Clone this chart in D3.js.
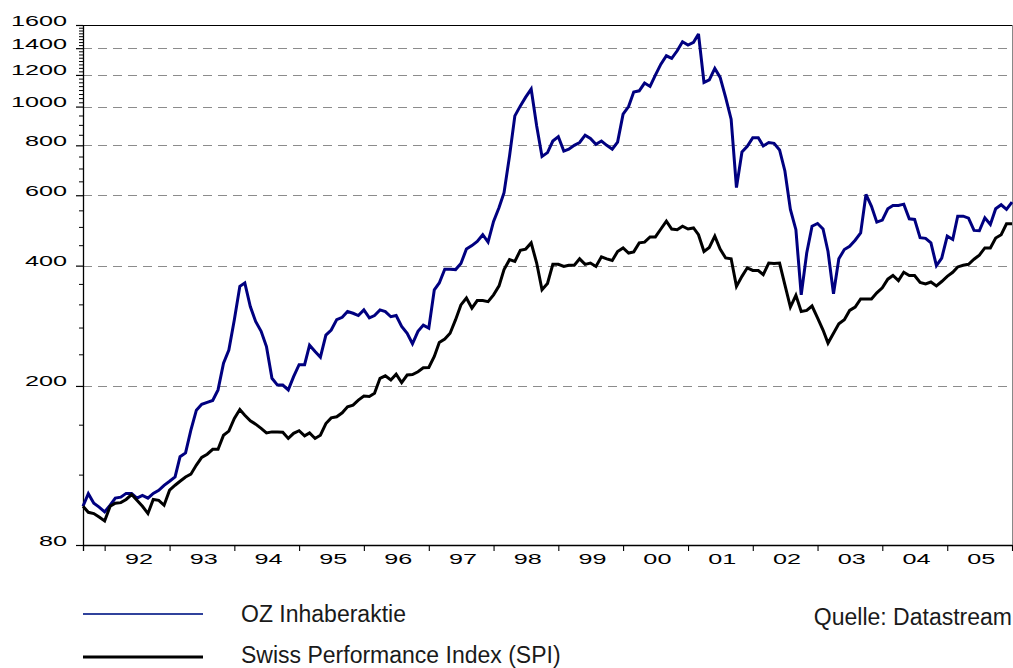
<!DOCTYPE html>
<html><head><meta charset="utf-8">
<script src="https://cdn.jsdelivr.net/npm/d3@7"></script>
<style>body{margin:0;background:#fff}svg{display:block}</style>
</head><body><svg id="c" width="1013" height="668"></svg>
<script>
// Monthly series, indexed to 100 at the start (Sep 1991)
const startYear = 1991, startMonth = 8;
const oz = [100,107.5,101.8,99.5,96.8,100.6,104.8,105.4,107.7,107.7,104.8,106.5,104.8,107.7,109.6,112.8,115.5,118.4,133,136,
155,174,180,182,184,195.5,228,246,293,355,362,316,290,274,251,209,201,201,195.5,211,
226,226,253,244,236,268,276,293,297,307,304,300,310,296,300,310,307,298,300,282,
271,255,274,284,279,348,362,392,392,391,405,440,449,460,478,458,516,559,609,752,
948,1004,1056,1106,894,750,767,820,841,774,782,800,813,848,832,805,820,800,782,815,
957,1000,1088,1095,1145,1123,1199,1277,1340,1320,1379,1453,1426,1448,1519,1149,1166,1246,1183,1054,
930,627,770,795,836,836,797,813,809,779,690,553,492,338,430,502,510,494,434,340,
416,439,447,463,483,603,563,514,520,555,566,566,570,524,522,470,468,456,400,418,
474,465,532,532,526,490,489,527,507,555,568,553,577];
const spi = [100,96.6,95.9,94.0,91.9,100,101.8,102.1,104,107,103.5,100,95.9,104,103.5,100.6,109.7,112.9,115.5,118.4,
120.3,126.8,132.5,135,138.8,138.8,150.6,154.2,165.9,174.6,169,163.6,160.5,156.6,152.6,153.5,153.5,153.2,147.8,152.2,
154.5,150,152.6,147.8,150.6,161.1,166.4,167.4,171.3,177.3,179.1,184.3,188.8,188.3,191.8,209,212,207,214,204,
213,213.5,217,222,222.5,237,257,262,271,293,319,332,313,327,327,325,338,356,391,414,
410,437,440,456,406,348,361,403,403,398,401,401,416,403,406,398,421,416,412,434,
443,430,433,456,458,472,472,494,517,494,492,502,494,497,478,434,444,474,440,418,
416,355,376,395,389,389,380,406,405,406,358,315,337,307,309,317,296,276,256,271,
286,293,309,315,330,330,330,342,352,370,378,367,385,378,378,363,360,364,356,365,
376,385,397,401,403,415,425,443,443,469,478,509,509];

const yMajor = [80,200,400,600,800,1000,1200,1400,1600];
const yGrid = [200,400,600,800,1000,1200,1400];
const yMinor = [120,160,240,280,320,360,450,500,550,650,700,750,850,900,950,
  1025,1050,1075,1100,1125,1150,1175,1225,1250,1275,1300,1325,1350,1375,1425,1450,1475,1500,1525,1550,1575];
const yearTicks = [1992,1993,1994,1995,1996,1997,1998,1999,2000,2001,2002,2003,2004,2005,2006];
const yearLabels = ["92","93","94","95","96","97","98","99","00","01","02","03","04","05"];
const seriesNames = ["OZ Inhaberaktie","Swiss Performance Index (SPI)"];
const seriesColors = ["#000080","#000000"];
const sourceText = "Quelle: Datastream";

const svg = d3.select("#c");
const L = 83, R = 1012, T = 25, B = 545;
const t0 = new Date(startYear, startMonth, 1);
const dates = oz.map((d,i) => d3.timeMonth.offset(t0, i));
const x = d3.scaleTime().domain([t0, dates[dates.length-1]]).range([L, R]);
const y = d3.scaleLog().domain([80,1600]).range([B, T]);
const SX = 1.8;
const tickFont = "'Liberation Sans', Arial, Helvetica, sans-serif";

// grid
svg.append("g").selectAll("line").data(yGrid).join("line")
  .attr("x1", L).attr("x2", R)
  .attr("y1", d => Math.round(y(d))+0.5).attr("y2", d => Math.round(y(d))+0.5)
  .attr("stroke", "#8c8c8c").attr("stroke-width", 1.2).attr("stroke-dasharray", "9,6");

// frame
svg.append("line").attr("x1", L).attr("x2", R+0.5).attr("y1", T+0.5).attr("y2", T+0.5)
  .attr("stroke", "#000").attr("stroke-width", 1.2);
svg.append("line").attr("x1", R+0.5).attr("x2", R+0.5).attr("y1", T).attr("y2", B)
  .attr("stroke", "#888").attr("stroke-width", 1);

// x axis
const xAxis = svg.append("g").attr("transform", `translate(0,${B})`)
  .call(d3.axisBottom(x).tickValues(yearTicks.map(yr => new Date(yr,0,1)))
    .tickSize(6).tickSizeOuter(0).tickFormat(""));
xAxis.select(".domain").attr("stroke-width", 1.3);
xAxis.selectAll(".tick line").attr("stroke-width", 1.1);

svg.append("g").selectAll("text").data(yearLabels).join("text")
  .attr("transform", (d,i) => `translate(${x(new Date(1992+i,6,1))+2},${B+19}) scale(${SX},1)`)
  .attr("text-anchor", "middle")
  .attr("font-family", tickFont).attr("font-size", 14).attr("fill", "#000")
  .text(d => d);

// y axis major
const yAxis = svg.append("g").attr("transform", `translate(${L},0)`)
  .call(d3.axisLeft(y).tickValues(yMajor).tickSize(7).tickSizeOuter(0).tickFormat(d3.format("d")));
yAxis.select(".domain").remove();
yAxis.selectAll(".tick line").attr("stroke-width", 1.2);
yAxis.selectAll(".tick text")
  .attr("x", -16/SX).attr("dy", "0").attr("y", 0)
  .attr("transform", `scale(${SX},1)`)
  .attr("font-family", tickFont).attr("font-size", 14).attr("fill", "#000");

// y axis minor
const yAxisMinor = svg.append("g").attr("transform", `translate(${L},0)`)
  .call(d3.axisLeft(y).tickValues(yMinor).tickSize(4).tickSizeOuter(0).tickFormat(""));
yAxisMinor.select(".domain").remove();

svg.append("line").attr("x1", L+0.5).attr("x2", L+0.5).attr("y1", T).attr("y2", B+6)
  .attr("stroke", "#000").attr("stroke-width", 1.3);

// series
const line = d3.line().x((d,i) => x(dates[i])).y(d => y(d));
[oz, spi].forEach((s, k) => {
  svg.append("path").datum(s).attr("d", line)
    .attr("fill", "none").attr("stroke", seriesColors[k]).attr("stroke-width", 3)
    .attr("stroke-linejoin", "miter").attr("stroke-miterlimit", 3);
});

// legend
const legY = [614, 657];
const legTextY = [622, 663];
const legendColors = ["#30429c", "#000"];
const legendWidths = [2, 3];
seriesNames.forEach((name, k) => {
  svg.append("line").attr("x1", L).attr("x2", 203).attr("y1", legY[k]).attr("y2", legY[k])
    .attr("stroke", legendColors[k]).attr("stroke-width", legendWidths[k]);
  svg.append("text").attr("x", 241).attr("y", legTextY[k])
    .attr("font-family", tickFont).attr("font-size", 23).attr("fill", "#1a1a1a").text(name);
});
svg.append("text").attr("x", R).attr("y", 625).attr("text-anchor", "end")
  .attr("font-family", tickFont).attr("font-size", 23).attr("fill", "#1a1a1a").text(sourceText);
</script></body></html>
